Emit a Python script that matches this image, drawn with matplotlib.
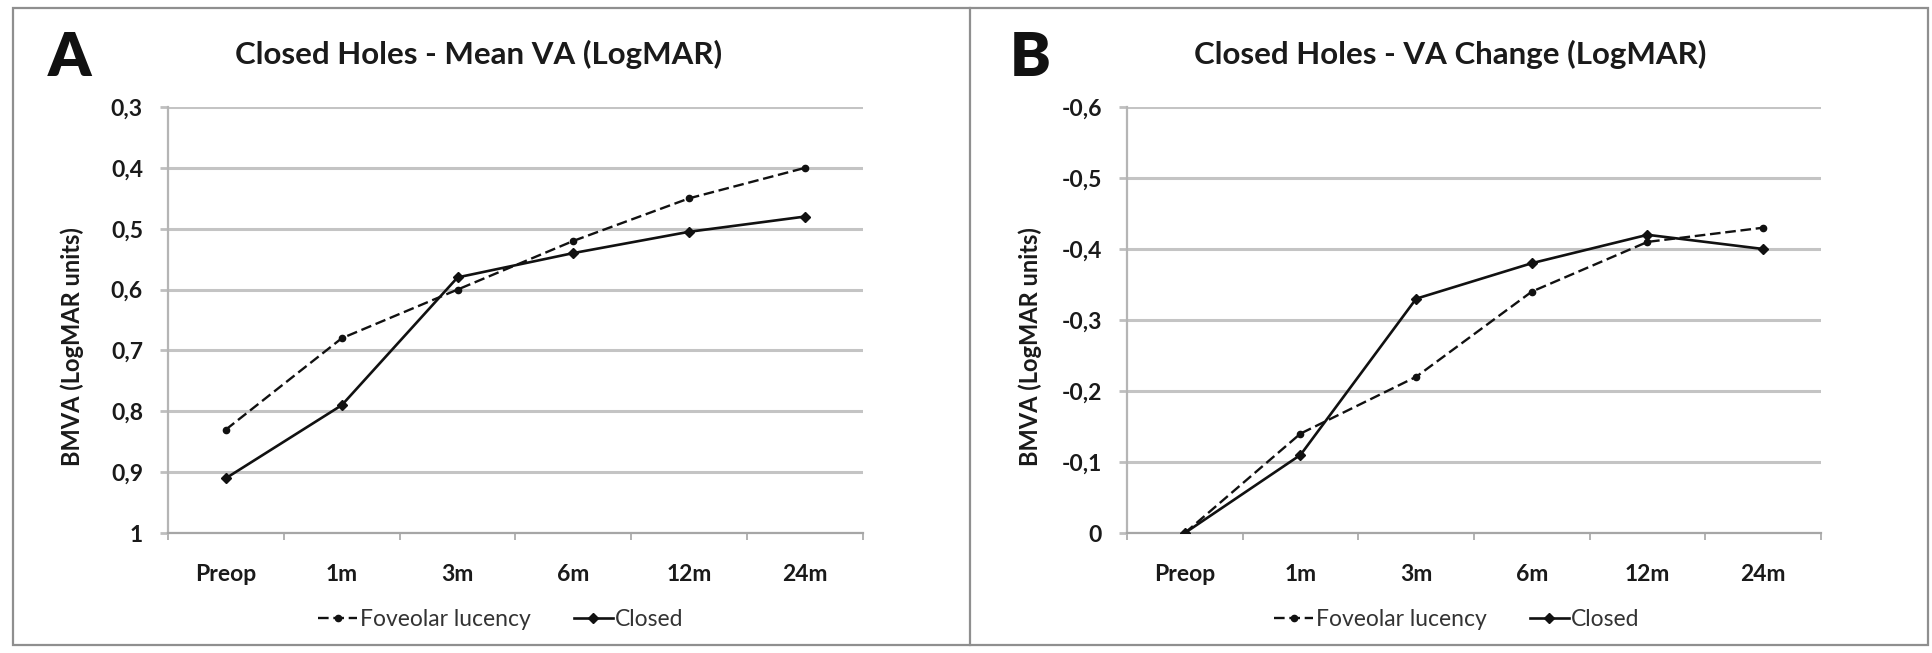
import matplotlib
matplotlib.use("Agg")
import matplotlib.pyplot as plt
from matplotlib.lines import Line2D
from matplotlib.patches import Rectangle

plt.rcParams['font.family'] = ['Lato', 'DejaVu Sans']

categories = ["Preop", "1m", "3m", "6m", "12m", "24m"]
a_foveolar = [0.83, 0.68, 0.60, 0.52, 0.45, 0.40]
a_closed = [0.91, 0.79, 0.58, 0.54, 0.505, 0.48]
b_foveolar = [0.0, -0.14, -0.22, -0.34, -0.41, -0.43]
b_closed = [0.0, -0.11, -0.33, -0.38, -0.42, -0.40]
a_yticks = [0.3, 0.4, 0.5, 0.6, 0.7, 0.8, 0.9, 1.0]
a_yticklabels = ["0,3", "0,4", "0,5", "0,6", "0,7", "0,8", "0,9", "1"]
b_yticks = [-0.6, -0.5, -0.4, -0.3, -0.2, -0.1, 0.0]
b_yticklabels = ["-0,6", "-0,5", "-0,4", "-0,3", "-0,2", "-0,1", "0"]
series_names = ["Foveolar lucency", "Closed"]
titles = ["Closed Holes - Mean VA (LogMAR)", "Closed Holes - VA Change (LogMAR)"]
panel_letters = ["A", "B"]
ylabel = "BMVA (LogMAR units)"

W, H = 1933, 653
fig = plt.figure(figsize=(W / 100, H / 100), dpi=100)


def fx(px):
    return px / W


def fy(py):
    return 1 - py / H


def make_panel(left_px, right_px, fov, clo, yticks, ylabels, ylim, title, title_x,
               letter, letter_x, ylabel_x, legend_x):
    top_px, bot_px = 107, 533
    ax = fig.add_axes([fx(left_px), fy(bot_px), (right_px - left_px) / W, (bot_px - top_px) / H])
    x = list(range(len(categories)))
    ax.plot(x, fov, color='#111111', lw=1.7, ls=(0, (4.5, 2)), marker='o', ms=4.5,
            label=series_names[0], zorder=3)
    ax.plot(x, clo, color='#111111', lw=1.9, ls='-', marker='D', ms=5,
            label=series_names[1], zorder=3)
    ax.set_xlim(-0.5, len(categories) - 0.5)
    ax.set_ylim(*ylim)
    ax.set_yticks(yticks)
    ax.set_yticklabels(ylabels, fontsize=16.5, fontweight='bold', color='#1a1a1a')
    ax.set_xticks(x)
    ax.set_xticklabels(categories, fontsize=16.5, fontweight='bold', color='#1a1a1a')
    ax.set_xticks([i - 0.5 for i in range(len(categories) + 1)], minor=True)
    ax.tick_params(axis='x', which='major', length=0, pad=22)
    ax.tick_params(axis='x', which='minor', length=5, width=1.2, color='#a6a6a6', direction='out')
    ax.tick_params(axis='y', which='major', length=6, width=2, color='#bfbfbf', pad=12)
    ax.grid(axis='y', color='#c4c4c4', lw=2.2, zorder=0)
    ax.set_axisbelow(True)
    for s in ['top', 'right']:
        ax.spines[s].set_visible(False)
    ax.spines['left'].set_color('#b5b5b5')
    ax.spines['left'].set_linewidth(1.6)
    ax.spines['bottom'].set_color('#a6a6a6')
    ax.spines['bottom'].set_linewidth(1.6)
    leg = ax.legend(loc='center', bbox_to_anchor=((legend_x - left_px) / (right_px - left_px),
                                                   (bot_px - 620) / (bot_px - top_px)),
                    ncol=2, frameon=False, fontsize=16.5, handlelength=1.7,
                    handletextpad=0.1, columnspacing=1.9)
    for t in leg.get_texts():
        t.set_color('#333333')
    fig.text(fx(title_x), fy(54), title, ha='center', va='center', fontsize=22.5,
             fontweight='bold', color='#1a1a1a')
    fig.text(fx(letter_x), fy(58), letter, ha='center', va='center', fontsize=44,
             fontweight='heavy', color='#111111')
    fig.text(fx(ylabel_x), fy(347), ylabel, ha='center', va='center', rotation=90,
             fontsize=17, fontweight='bold', color='#1a1a1a')
    return ax


make_panel(168, 863, a_foveolar, a_closed, a_yticks, a_yticklabels, (1.0, 0.3),
           titles[0], 479, panel_letters[0], 70, 72, 501)
make_panel(1127, 1821, b_foveolar, b_closed, b_yticks, b_yticklabels, (0.0, -0.6),
           titles[1], 1450, panel_letters[1], 1030, 1030, 1457)

fig.add_artist(Rectangle((fx(13), fy(645)), (1928 - 13) / W, (645 - 8) / H,
                         transform=fig.transFigure, fill=False, ec='#8f8f8f', lw=1.6))
fig.add_artist(Line2D([fx(970), fx(970)], [fy(645), fy(8)], transform=fig.transFigure,
                      color='#8f8f8f', lw=1.6))

fig.savefig("out.png", dpi=100)
